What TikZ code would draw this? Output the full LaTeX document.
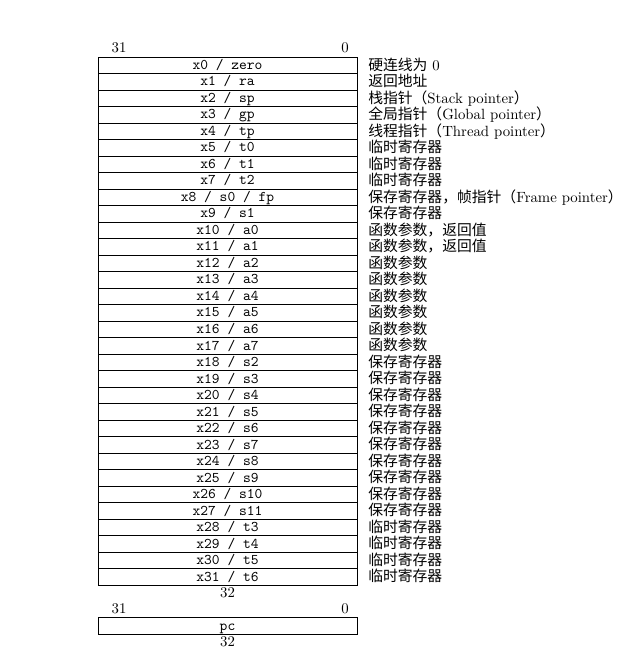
\documentclass[tikz,border=0pt]{standalone}
\usepackage{fontspec}
\usepackage{tikz}
\usetikzlibrary{positioning}
\newfontfamily\cjk{Noto Sans CJK SC}
\newcommand{\zh}[1]{{\cjk #1}}

\begin{document}
\begin{tikzpicture}[
    x=0.02375cm, y=-0.02375cm,
    % Register row boxes
    regbox/.style={
      rectangle, draw, line width=0.5pt,
      minimum width=6.15cm, minimum height=0.392cm,
      inner sep=0pt, outer sep=0pt,
      font=\ttfamily, text height=6.5pt, text depth=1pt
    },
    % Descriptions on the right
    desc/.style={
      inner sep=0pt, text height=8pt, text depth=1.5pt
    },
    bitnum/.style={inner sep=0pt},
  ]
  \useasboundingbox (0,0) rectangle (634,653);

  % ====================================================================
  % General purpose registers
  % ====================================================================
  \node[bitnum] (hi) at (119,48) {31};
  \node[bitnum] (lo) at (345,48) {0};

  \node[regbox] (r0) at (227.5,65.25) {x0 / zero};
  \node[regbox, below=0pt of r0] (r1) {x1 / ra};
  \node[regbox, below=0pt of r1] (r2) {x2 / sp};
  \node[regbox, below=0pt of r2] (r3) {x3 / gp};
  \node[regbox, below=0pt of r3] (r4) {x4 / tp};
  \node[regbox, below=0pt of r4] (r5) {x5 / t0};
  \node[regbox, below=0pt of r5] (r6) {x6 / t1};
  \node[regbox, below=0pt of r6] (r7) {x7 / t2};
  \node[regbox, below=0pt of r7] (r8) {x8 / s0 / fp};
  \node[regbox, below=0pt of r8] (r9) {x9 / s1};
  \node[regbox, below=0pt of r9] (r10) {x10 / a0};
  \node[regbox, below=0pt of r10] (r11) {x11 / a1};
  \node[regbox, below=0pt of r11] (r12) {x12 / a2};
  \node[regbox, below=0pt of r12] (r13) {x13 / a3};
  \node[regbox, below=0pt of r13] (r14) {x14 / a4};
  \node[regbox, below=0pt of r14] (r15) {x15 / a5};
  \node[regbox, below=0pt of r15] (r16) {x16 / a6};
  \node[regbox, below=0pt of r16] (r17) {x17 / a7};
  \node[regbox, below=0pt of r17] (r18) {x18 / s2};
  \node[regbox, below=0pt of r18] (r19) {x19 / s3};
  \node[regbox, below=0pt of r19] (r20) {x20 / s4};
  \node[regbox, below=0pt of r20] (r21) {x21 / s5};
  \node[regbox, below=0pt of r21] (r22) {x22 / s6};
  \node[regbox, below=0pt of r22] (r23) {x23 / s7};
  \node[regbox, below=0pt of r23] (r24) {x24 / s8};
  \node[regbox, below=0pt of r24] (r25) {x25 / s9};
  \node[regbox, below=0pt of r25] (r26) {x26 / s10};
  \node[regbox, below=0pt of r26] (r27) {x27 / s11};
  \node[regbox, below=0pt of r27] (r28) {x28 / t3};
  \node[regbox, below=0pt of r28] (r29) {x29 / t4};
  \node[regbox, below=0pt of r29] (r30) {x30 / t5};
  \node[regbox, below=0pt of r30] (r31) {x31 / t6};

  \node[bitnum, below=1.5pt of r31] (width) {32};

  % Descriptions
  \node[desc, right=7.4pt of r0] (d0) {\zh{硬连线为} 0};
  \node[desc, right=7.4pt of r1] (d1) {\zh{返回地址}};
  \node[desc, right=7.4pt of r2] (d2) {\zh{栈指针（}Stack pointer\zh{）}};
  \node[desc, right=7.4pt of r3] (d3) {\zh{全局指针（}Global pointer\zh{）}};
  \node[desc, right=7.4pt of r4] (d4) {\zh{线程指针（}Thread pointer\zh{）}};
  \node[desc, right=7.4pt of r5] (d5) {\zh{临时寄存器}};
  \node[desc, right=7.4pt of r6] (d6) {\zh{临时寄存器}};
  \node[desc, right=7.4pt of r7] (d7) {\zh{临时寄存器}};
  \node[desc, right=7.4pt of r8] (d8) {\zh{保存寄存器，帧指针（}Frame pointer\zh{）}};
  \node[desc, right=7.4pt of r9] (d9) {\zh{保存寄存器}};
  \node[desc, right=7.4pt of r10] (d10) {\zh{函数参数，返回值}};
  \node[desc, right=7.4pt of r11] (d11) {\zh{函数参数，返回值}};
  \node[desc, right=7.4pt of r12] (d12) {\zh{函数参数}};
  \node[desc, right=7.4pt of r13] (d13) {\zh{函数参数}};
  \node[desc, right=7.4pt of r14] (d14) {\zh{函数参数}};
  \node[desc, right=7.4pt of r15] (d15) {\zh{函数参数}};
  \node[desc, right=7.4pt of r16] (d16) {\zh{函数参数}};
  \node[desc, right=7.4pt of r17] (d17) {\zh{函数参数}};
  \node[desc, right=7.4pt of r18] (d18) {\zh{保存寄存器}};
  \node[desc, right=7.4pt of r19] (d19) {\zh{保存寄存器}};
  \node[desc, right=7.4pt of r20] (d20) {\zh{保存寄存器}};
  \node[desc, right=7.4pt of r21] (d21) {\zh{保存寄存器}};
  \node[desc, right=7.4pt of r22] (d22) {\zh{保存寄存器}};
  \node[desc, right=7.4pt of r23] (d23) {\zh{保存寄存器}};
  \node[desc, right=7.4pt of r24] (d24) {\zh{保存寄存器}};
  \node[desc, right=7.4pt of r25] (d25) {\zh{保存寄存器}};
  \node[desc, right=7.4pt of r26] (d26) {\zh{保存寄存器}};
  \node[desc, right=7.4pt of r27] (d27) {\zh{保存寄存器}};
  \node[desc, right=7.4pt of r28] (d28) {\zh{临时寄存器}};
  \node[desc, right=7.4pt of r29] (d29) {\zh{临时寄存器}};
  \node[desc, right=7.4pt of r30] (d30) {\zh{临时寄存器}};
  \node[desc, right=7.4pt of r31] (d31) {\zh{临时寄存器}};

  % ====================================================================
  % Program counter
  % ====================================================================
  \node[bitnum] (pchi) at (119,609) {31};
  \node[bitnum] (pclo) at (345,609) {0};
  \node[regbox] (pc) at (227.5,626) {pc};
  \node[bitnum, below=1.5pt of pc] (pcwidth) {32};

\end{tikzpicture}
\end{document}
